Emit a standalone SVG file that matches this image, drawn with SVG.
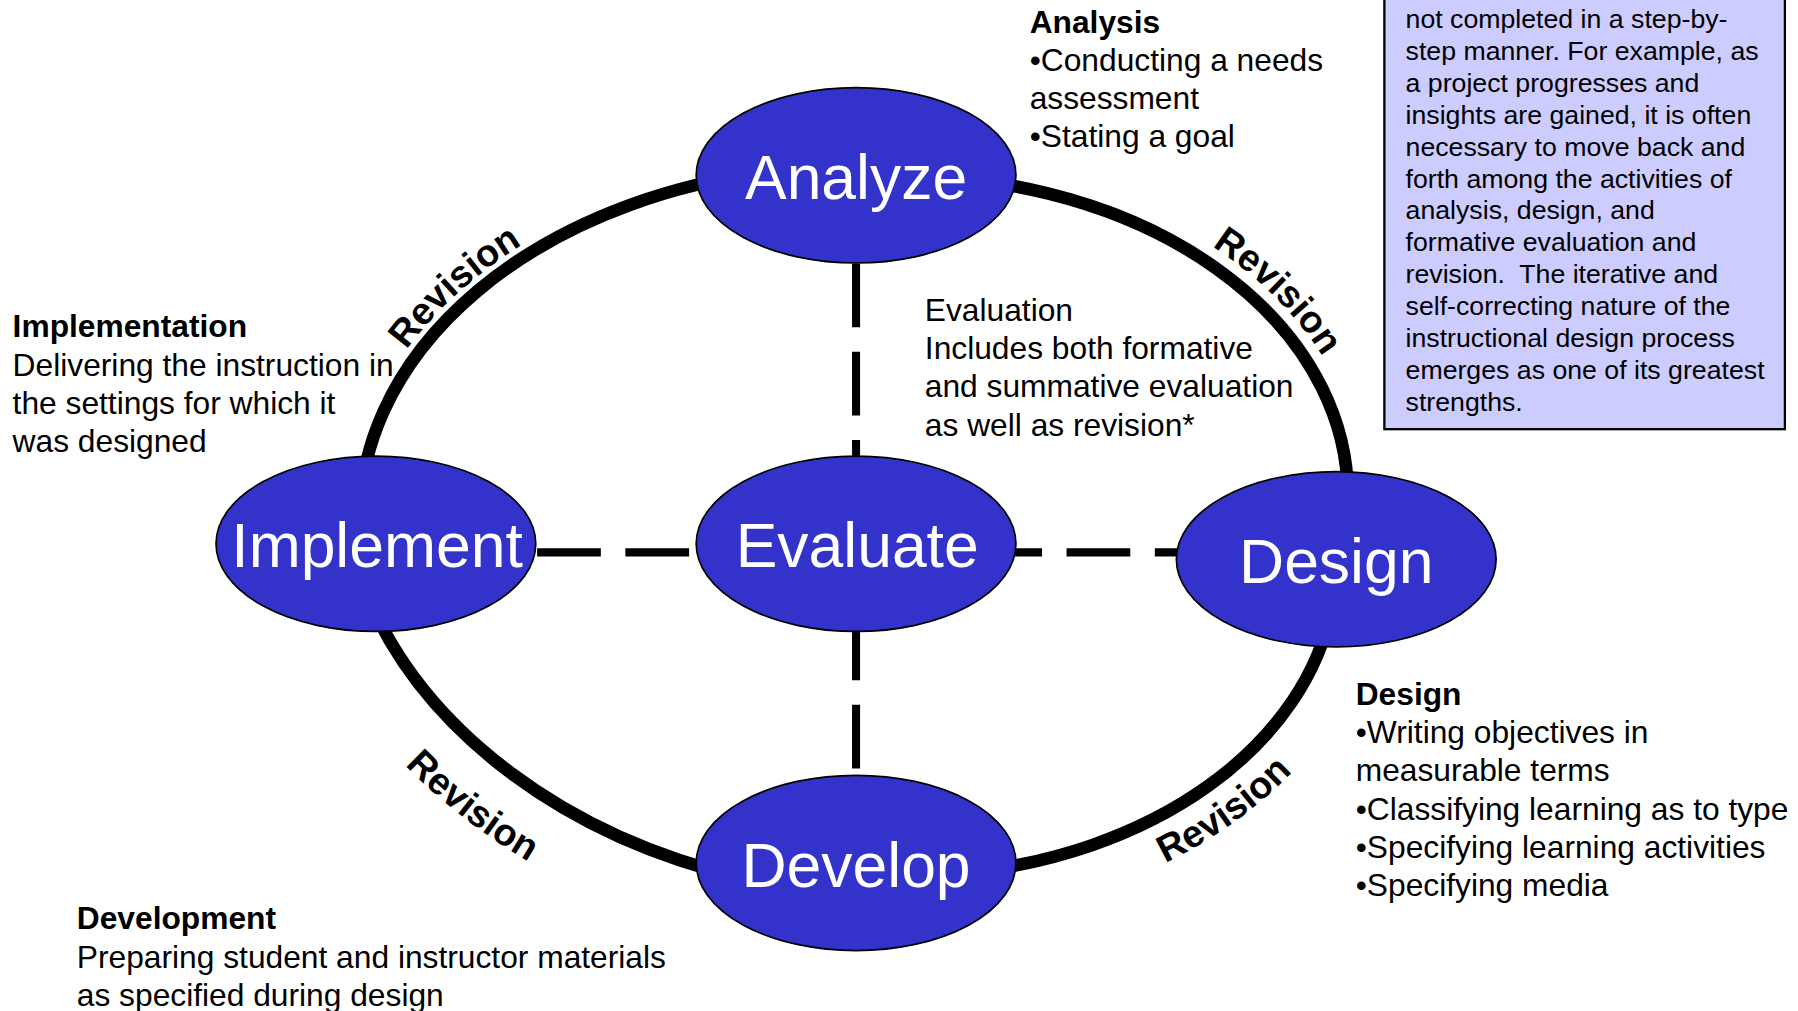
<svg xmlns="http://www.w3.org/2000/svg" width="1798" height="1011" viewBox="0 0 1798 1011">
<defs>
<style>
.arc{fill:none;stroke:#000;stroke-width:11}
.dash{fill:none;stroke:#000;stroke-width:7;stroke-dasharray:55.6 21.4}
.node{fill:#3333CC;stroke:#000;stroke-width:1.5}
.nlabel{font-family:"Liberation Sans",Arial,sans-serif;font-size:54.5px;fill:#fff;text-anchor:middle}
.t{font-family:"Liberation Sans",Arial,sans-serif;font-size:27.7px;fill:#000}
.b{font-weight:bold}
.box{font-family:"Liberation Sans",Arial,sans-serif;font-size:23.3px;fill:#000}
.rev{font-family:"Liberation Sans",Arial,sans-serif;font-size:33px;font-weight:bold;fill:#000}
</style>
<path id="pTL" d="M311.4,395.1 A443,318 0 0 1 545.9,169.7"/>
<path id="pTR" d="M990,179.1 A400,292 0 0 1 1183.9,381.3"/>
<path id="pBL" d="M270.7,546.5 A554.5,434.5 0 0 0 596.3,810.6"/>
<path id="pBR" d="M919.7,788 A413.2,311.2 0 0 0 1185,588.2"/>
</defs>
<rect x="0" y="0" width="1798" height="1011" fill="#fff"/>
<g transform="scale(1.146)">
<g id="connectors">
<path class="arc" d="M314.7,470 A433,308 0 0 1 700,146.8"/>
<path class="arc" d="M760,154.8 A386,278 0 0 1 1175.2,450"/>
<path class="arc" d="M320.6,520 A498,378 0 0 0 650,766.6"/>
<path class="arc" d="M1162.3,530 A374,272 0 0 1 840,761.7"/>
<line class="dash" x1="747" y1="153" x2="747" y2="753"/>
<line class="dash" x1="468.7" y1="482" x2="1166" y2="482"/>
</g>
<g id="revision-labels">
<text class="rev"><textPath href="#pTL" startOffset="50%" text-anchor="middle">Revision</textPath></text>
<text class="rev"><textPath href="#pTR" startOffset="50%" text-anchor="middle">Revision</textPath></text>
<text class="rev"><textPath href="#pBL" startOffset="50%" text-anchor="middle">Revision</textPath></text>
<text class="rev"><textPath href="#pBR" startOffset="50%" text-anchor="middle">Revision</textPath></text>
</g>
<g id="node-analyze">
<ellipse class="node" cx="747" cy="153" rx="139.5" ry="76.5"/>
<text class="nlabel" x="747" y="174">Analyze</text>
</g>
<g id="node-evaluate">
<ellipse class="node" cx="747" cy="474.5" rx="139.5" ry="76.5"/>
<text class="nlabel" x="748" y="494.6">Evaluate</text>
</g>
<g id="node-implement">
<ellipse class="node" cx="328" cy="474.5" rx="139.5" ry="76.5"/>
<text class="nlabel" x="329" y="495">Implement</text>
</g>
<g id="node-design">
<ellipse class="node" cx="1166" cy="488" rx="139.5" ry="76.5"/>
<text class="nlabel" x="1166" y="509">Design</text>
</g>
<g id="node-develop">
<ellipse class="node" cx="747" cy="753" rx="139.5" ry="76.5"/>
<text class="nlabel" x="747" y="774">Develop</text>
</g>
<g id="note-analysis">
<text class="t b" x="898.5" y="28.5">Analysis</text>
<text class="t" x="898.5" y="61.9">•Conducting a needs</text>
<text class="t" x="898.5" y="95.3">assessment</text>
<text class="t" x="898.5" y="128.7">•Stating a goal</text>
</g>
<g id="note-evaluation">
<text class="t" x="807" y="280">Evaluation</text>
<text class="t" x="807" y="313.4">Includes both formative</text>
<text class="t" x="807" y="346.8">and summative evaluation</text>
<text class="t" x="807" y="380.2">as well as revision*</text>
</g>
<g id="note-implementation">
<text class="t b" x="11" y="294.3">Implementation</text>
<text class="t" x="11" y="327.7">Delivering the instruction in</text>
<text class="t" x="11" y="361.1">the settings for which it</text>
<text class="t" x="11" y="394.5">was designed</text>
</g>
<g id="note-design">
<text class="t b" x="1183" y="615">Design</text>
<text class="t" x="1183" y="648.4">•Writing objectives in</text>
<text class="t" x="1183" y="681.8">measurable terms</text>
<text class="t" x="1183" y="715.2">•Classifying learning as to type</text>
<text class="t" x="1183" y="748.6">•Specifying learning activities</text>
<text class="t" x="1183" y="782">•Specifying media</text>
</g>
<g id="note-development">
<text class="t b" x="67" y="811">Development</text>
<text class="t" x="67" y="844.4">Preparing student and instructor materials</text>
<text class="t" x="67" y="877.8">as specified during design</text>
</g>
<g id="note-box">
<rect x="1208" y="-20" width="349.5" height="394.5" fill="#CCCCFF" stroke="#000" stroke-width="2"/>
<text class="box" x="1226.5" y="24.7">not completed in a step-by-</text>
<text class="box" x="1226.5" y="52.5">step manner. For example, as</text>
<text class="box" x="1226.5" y="80.3">a project progresses and</text>
<text class="box" x="1226.5" y="108.1">insights are gained, it is often</text>
<text class="box" x="1226.5" y="135.9">necessary to move back and</text>
<text class="box" x="1226.5" y="163.7">forth among the activities of</text>
<text class="box" x="1226.5" y="191.5">analysis, design, and</text>
<text class="box" x="1226.5" y="219.3">formative evaluation and</text>
<text class="box" x="1226.5" y="247.1" style="white-space:pre">revision.  The iterative and</text>
<text class="box" x="1226.5" y="274.9">self-correcting nature of the</text>
<text class="box" x="1226.5" y="302.7">instructional design process</text>
<text class="box" x="1226.5" y="330.5">emerges as one of its greatest</text>
<text class="box" x="1226.5" y="358.3">strengths.</text>
</g>
</g>
</svg>
